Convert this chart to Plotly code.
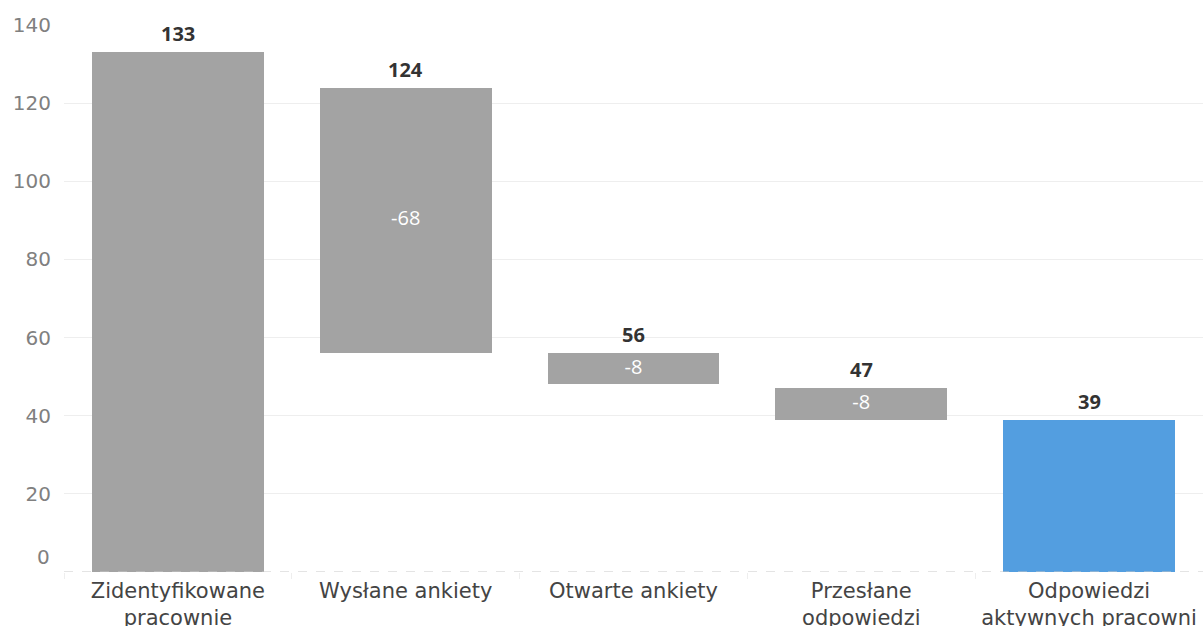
import plotly.graph_objects as go

categories = ["Zidentyfikowane<br>pracownie", "Wysłane ankiety", "Otwarte ankiety",
              "Przesłane<br>odpowiedzi", "Odpowiedzi<br>aktywnych pracowni"]
tops = [133, 124, 56, 47, 39]
bottoms = [0, 56, 48, 39, 0]
inner_labels = ["", "-68", "-8", "-8", ""]
colors = ["#a3a3a3", "#a3a3a3", "#a3a3a3", "#a3a3a3", "#539ee0"]
y_ticks = [0, 20, 40, 60, 80, 100, 120, 140]

FONT = "Open Sans"
CAT_FONT = "DejaVu Sans"

fig = go.Figure()
fig.add_trace(go.Bar(
    x=categories,
    y=[t - b for t, b in zip(tops, bottoms)],
    base=bottoms,
    marker=dict(color=colors, line=dict(width=0)),
    width=0.755,
    hoverinfo="skip",
    showlegend=False,
))
fig.add_trace(go.Scatter(
    x=categories,
    y=[(t + b) / 2 for t, b in zip(tops, bottoms)],
    mode="text",
    text=inner_labels,
    textposition="middle center",
    textfont=dict(family=FONT, size=20, color="white"),
    hoverinfo="skip",
    showlegend=False,
))
for c, t in zip(categories, tops):
    fig.add_annotation(x=c, y=t, text="<b>%d</b>" % t, showarrow=False,
                       yanchor="bottom", yshift=3,
                       font=dict(family=FONT, size=20, color="#333333"))

fig.add_shape(type="line", xref="paper", yref="y", x0=0, x1=1, y0=0, y1=0,
              line=dict(color="#c8c8c8", width=1, dash="dash"), layer="above")

fig.add_annotation(xref="paper", yref="y", x=0, y=0, text="0", showarrow=False,
                   xanchor="right", xshift=-12, yshift=15,
                   font=dict(family=CAT_FONT, size=20, color="#808080"))

fig.update_layout(
    width=1203, height=626,
    margin=dict(l=64, r=0, t=25, b=54, autoexpand=False),
    paper_bgcolor="white", plot_bgcolor="white",
    font=dict(family=FONT, color="#444444"),
    bargap=0,
    xaxis=dict(
        type="category",
        range=[-0.5, 4.5],
        showgrid=False,
        automargin=False,
        ticks="outside", tickson="boundaries", ticklen=6, tickcolor="#eeeeee",
        tickfont=dict(family=CAT_FONT, size=21, color="#444444"),
        ticklabelstandoff=4,
        showline=False, zeroline=False,
    ),
    yaxis=dict(
        range=[0, 140],
        automargin=False,
        tickvals=y_ticks,
        ticktext=["" if v == 0 else str(v) for v in y_ticks],
        showgrid=True, gridcolor="#eeeeee", gridwidth=1,
        zeroline=False, showline=False,
        tickfont=dict(family=CAT_FONT, size=20, color="#808080"),
        ticklabelstandoff=12,
    ),
)

fig.write_html("out.html")
